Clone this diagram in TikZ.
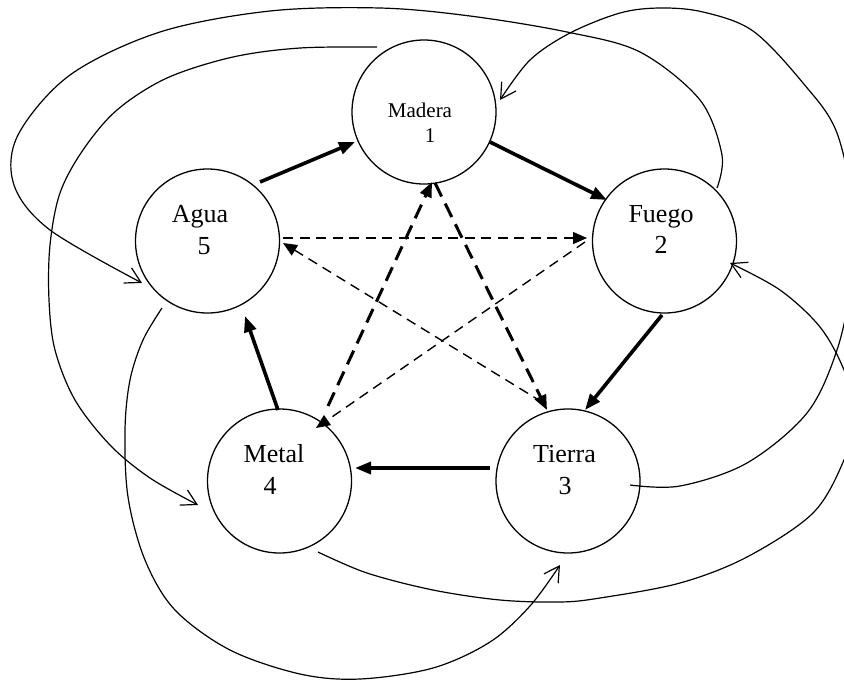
\documentclass[tikz,border=0pt]{standalone}
\usepackage{fontspec}
\setmainfont{Liberation Serif}
\usetikzlibrary{arrows.meta,calc}
\begin{document}
\begin{tikzpicture}[x=1pt,y=-1pt,
  elem/.style={draw, circle, minimum size=144pt, inner sep=0pt, outer sep=0pt, line width=1.3pt},
  lbl/.style={anchor=base, inner sep=0pt, font=\fontsize{26}{31}\selectfont},
  lbls/.style={anchor=base, inner sep=0pt, font=\fontsize{21}{25}\selectfont},
  gen/.style={line width=3.6pt, -{Triangle[length=16pt,width=12pt]}},
  ctrlthick/.style={line width=3pt, dash pattern=on 15pt off 8pt, -{Triangle[length=15pt,width=12pt]}},
  ctrlthin/.style={line width=1.4pt, dash pattern=on 10pt off 6.5pt, -{Triangle[length=14pt,width=12pt]}},
  insult/.style={line width=1.2pt, -{Straight Barb[length=15pt,width=17pt]}},
  curv/.style={smooth, tension=0.55}
]
\useasboundingbox (0,0) rectangle (844,681);
\fill[white] (0,0) rectangle (844,681);
\clip (0,0) rectangle (844,681);

% elements
\node[elem] (madera) at (424,112) {};
\node[elem] (fuego) at (664.5,241) {};
\node[elem] (tierra) at (568,481) {};
\node[elem] (metal) at (279.5,481) {};
\node[elem] (agua) at (207.5,241) {};

% labels
\node[lbls] (maderaT) at (420,117) {Madera};
\node[lbls] (maderaN) at (430,142) {1};
\node[lbl] (fuegoT) at (661,222) {Fuego};
\node[lbl] (fuegoN) at (661,253) {2};
\node[lbl] (tierraT) at (564.5,462) {Tierra};
\node[lbl] (tierraN) at (565,494) {3};
\node[lbl] (metalT) at (274,462) {Metal};
\node[lbl] (metalN) at (270,494) {4};
\node[lbl] (aguaT) at (200,222) {Agua};
\node[lbl] (aguaN) at (204,254) {5};

% generating cycle (thick solid)
\draw[gen] ($(agua)+(52.5,-59)$) -- ($(madera)+(-69,30)$);
\draw[gen] ($(madera)+(66,30)$) -- ($(fuego)+(-57.5,-41)$);
\draw[gen] ($(fuego)+(-2.5,74)$) -- ($(tierra)+(17,-71)$);
\draw[gen] ($(tierra)+(-78,-13)$) -- ($(metal)+(75.5,-13)$);
\draw[gen] ($(metal)+(-1.5,-71)$) -- ($(agua)+(37.5,75)$);

% controlling cycle (dashed)
\draw[ctrlthick] ($(metal)+(48.5,-75)$) -- ($(madera)+(8,70)$);
\draw[ctrlthick] ($(madera)+(11,71)$) -- ($(tierra)+(-21,-71)$);
\draw[ctrlthin] ($(agua)+(75.5,-3)$) -- ($(fuego)+(-77.5,-3)$);
\draw[ctrlthin] ($(fuego)+(-79.5,1)$) -- ($(metal)+(36.5,-53)$);
\draw[ctrlthin] ($(tierra)+(-26,-79)$) -- ($(agua)+(75.5,2)$);

% end points of the curves
\coordinate (c1s) at ($(fuego)+(52.5,-53)$);
\coordinate (c1e) at ($(agua)+(-65.5,42)$);
\coordinate (c2s) at ($(madera)+(-47,-65)$);
\coordinate (c2e) at ($(metal)+(-81.5,24)$);
\coordinate (c3s) at ($(agua)+(-45.5,67)$);
\coordinate (c3e) at ($(tierra)+(-8,84)$);
\coordinate (c4s) at ($(tierra)+(62,4)$);
\coordinate (c4e) at ($(madera)+(76,-12)$);
\coordinate (c5s) at ($(metal)+(38.5,71)$);
\coordinate (c5e) at ($(fuego)+(65.5,22)$);

% counter cycle (thin curves)
\draw[insult] plot[curv] coordinates {(c1s) (722,155) (700,100) (640,52) (567,32) (470,16) (380,8) (270,11) (160,32) (70,75) (18,135) (14,185) (50,230) (c1e)};
\draw[insult] plot[curv] coordinates {(c2s) (300,48) (233,57) (167,78) (117,110) (83,150) (60,193) (50,245) (49,300) (55,350) (75,400) (110,445) (150,478) (c2e)};
\draw[insult] plot[curv] coordinates {(c3s) (143,340) (130,380) (125,430) (128,497) (145,560) (175,610) (230,650) (300,674) (360,679) (433,668) (490,642) (530,606) (c3e)};
\draw[insult] plot[curv] coordinates {(c4s) (680,486) (747,463) (807,413) (837,350) (852,280) (855,220) (837,133) (803,83) (753,31) (703,12) (660,8) (620,13) (570,33) (530,60) (c4e)};
\draw[insult] plot[curv] coordinates {(c5s) (367,573) (433,590) (500,600) (560,602) (600,598) (680,583) (747,557) (813,513) (844,460) (856,415) (844,370) (820,327) (780,290) (c5e)};
\end{tikzpicture}
\end{document}
